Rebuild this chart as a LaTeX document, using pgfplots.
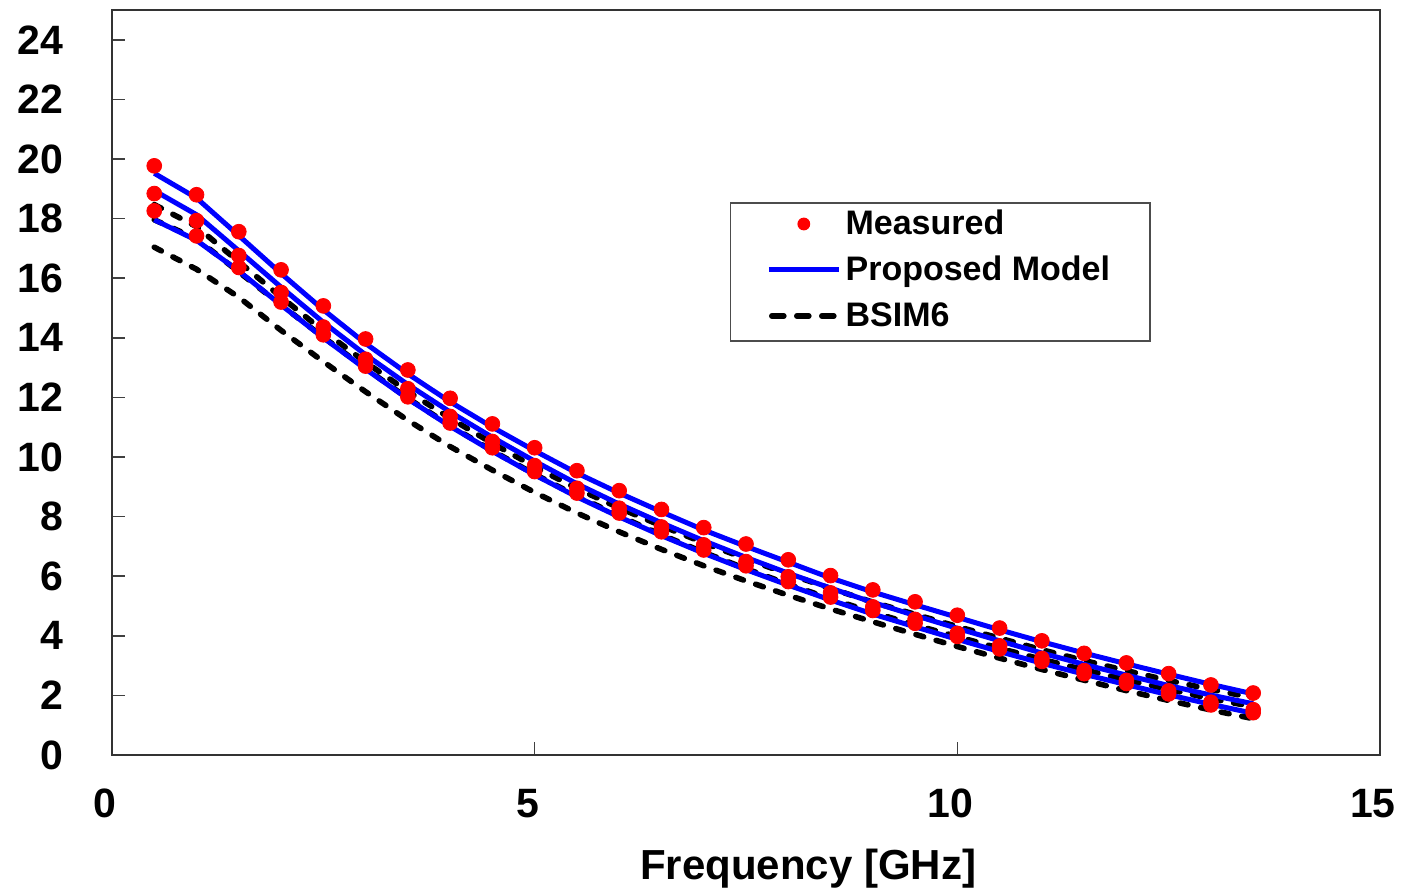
\documentclass[border=0pt]{standalone}
\usepackage{pgfplots}
\pgfplotsset{compat=1.18}
\usepackage{pgfplotstable}
\usepackage{fontspec}
\setmainfont{Liberation Sans}
\pgfplotstableread{
x A B C P1 P2 P3 D1 D2 D3
0.5 19.77 18.84 18.26 19.52 18.94 17.96 18.47 17.96 17.04
1.0 18.80 17.93 17.42 18.69 18.13 17.27 17.73 17.32 16.30
1.5 17.56 16.76 16.36 17.43 16.92 16.24 16.55 16.21 15.36
2.0 16.28 15.52 15.20 16.16 15.70 15.10 15.37 15.10 14.25
2.5 15.07 14.36 14.10 14.94 14.52 14.00 14.23 14.02 13.20
3.0 13.96 13.28 13.05 13.81 13.43 12.95 13.18 12.97 12.19
3.5 12.92 12.29 12.02 12.79 12.43 11.95 12.20 11.97 11.23
4.0 11.97 11.36 11.14 11.85 11.51 11.03 11.30 11.05 10.35
4.5 11.11 10.52 10.31 11.00 10.66 10.19 10.46 10.21 9.56
5.0 10.31 9.71 9.51 10.21 9.86 9.40 9.67 9.42 8.81
5.5 9.54 8.95 8.79 9.46 9.10 8.66 8.94 8.69 8.12
6.0 8.87 8.28 8.12 8.79 8.42 7.99 8.29 8.02 7.49
6.5 8.24 7.65 7.49 8.16 7.79 7.36 7.69 7.39 6.90
7.0 7.63 7.05 6.88 7.55 7.19 6.77 7.12 6.80 6.35
7.5 7.08 6.49 6.35 7.00 6.63 6.22 6.58 6.25 5.84
8.0 6.55 5.98 5.82 6.47 6.10 5.70 6.07 5.73 5.36
8.5 6.02 5.44 5.30 5.94 5.60 5.20 5.59 5.24 4.90
9.0 5.54 4.97 4.85 5.47 5.12 4.73 5.13 4.79 4.47
9.5 5.14 4.55 4.42 5.04 4.68 4.30 4.72 4.36 4.05
10.0 4.69 4.08 3.98 4.62 4.25 3.88 4.31 3.97 3.64
10.5 4.26 3.66 3.56 4.20 3.83 3.47 3.92 3.58 3.25
11.0 3.83 3.24 3.14 3.80 3.42 3.08 3.53 3.21 2.87
11.5 3.41 2.83 2.73 3.42 3.04 2.71 3.17 2.86 2.51
12.0 3.09 2.50 2.40 3.06 2.68 2.36 2.83 2.52 2.16
12.5 2.73 2.15 2.05 2.71 2.33 2.02 2.50 2.20 1.83
13.0 2.35 1.77 1.68 2.37 2.01 1.70 2.20 1.89 1.51
13.5 2.08 1.52 1.42 2.05 1.72 1.40 1.92 1.62 1.22
}\datatable
\begin{document}
\begin{tikzpicture}
\begin{axis}[
  scale only axis,
  width=634pt, height=372.5pt,
  xmin=0, xmax=15, ymin=0, ymax=25,
  xtick={0,5,10,15}, ytick={0,2,...,24},
  tick align=inside, xtick pos=bottom, ytick pos=left,
  major tick length=6.5pt,
  every tick/.style={black!75, line width=0.8pt},
  axis line style={black!80, line width=1pt},
  /pgf/number format/assume math mode=true,
  ticklabel style={font=\fontsize{20.5}{24}\selectfont\bfseries},
  xticklabel style={yshift=-13.5pt, xshift=-3.5pt},
  yticklabel style={xshift=-21pt},
  xlabel={Frequency [GHz]},
  xlabel style={font=\fontsize{21}{25}\selectfont\bfseries, at={(axis description cs:0.549,0)}, anchor=center, yshift=-57pt},
  legend cell align=left,
  legend style={at={(0.487,0.742)}, anchor=north west, draw=black!70, line width=0.8pt,
    font=\fontsize{17}{20}\selectfont\bfseries, inner xsep=18pt, inner ysep=1.75pt,
    row sep=3.5pt, column sep=0pt,
    nodes={text height=12pt, text depth=3.5pt, inner sep=2pt, yshift=-1pt}},
]
\addplot[black, line width=2.8pt, line cap=round, dash pattern=on 4pt off 6.5pt, forget plot] table[x=x,y=D1] {\datatable};
\addplot[black, line width=2.8pt, line cap=round, dash pattern=on 4pt off 6.5pt, forget plot] table[x=x,y=D2] {\datatable};
\addplot[black, line width=2.8pt, line cap=round, dash pattern=on 4pt off 6.5pt, forget plot] table[x=x,y=D3] {\datatable};
\addplot[blue, line width=2.5pt, forget plot] table[x=x,y=P1] {\datatable};
\addplot[blue, line width=2.5pt, forget plot] table[x=x,y=P2] {\datatable};
\addplot[blue, line width=2.5pt, forget plot] table[x=x,y=P3] {\datatable};
\addplot[only marks, mark=*, mark size=3.7pt, mark options={draw=red, fill=red}, forget plot] table[x=x,y=A] {\datatable};
\addplot[only marks, mark=*, mark size=3.7pt, mark options={draw=red, fill=red}, forget plot] table[x=x,y=B] {\datatable};
\addplot[only marks, mark=*, mark size=3.7pt, mark options={draw=red, fill=red}, forget plot] table[x=x,y=C] {\datatable};
\addlegendimage{draw=none, legend image code/.code={\path[draw=none, fill=none] (0pt,0pt) -- (35pt,0pt); \path[draw=none, fill=red] (17.5pt,0pt) circle (3.2pt);}}
\addlegendentry{Measured}
\addlegendimage{legend image code/.code={\draw[blue, line width=2.5pt] (0pt,0pt) -- (35pt,0pt);}}
\addlegendentry{Proposed Model}
\addlegendimage{legend image code/.code={\draw[black, line width=2.8pt, line cap=round, dash pattern=on 6pt off 6.5pt] (1.5pt,0pt) -- (35pt,0pt);}}
\addlegendentry{BSIM6}
\end{axis}
\pgfresetboundingbox
\path[use as bounding box] (current axis.south west) ++(-56pt,-68.5pt) rectangle ++(702pt,446pt);
\end{tikzpicture}
\end{document}
